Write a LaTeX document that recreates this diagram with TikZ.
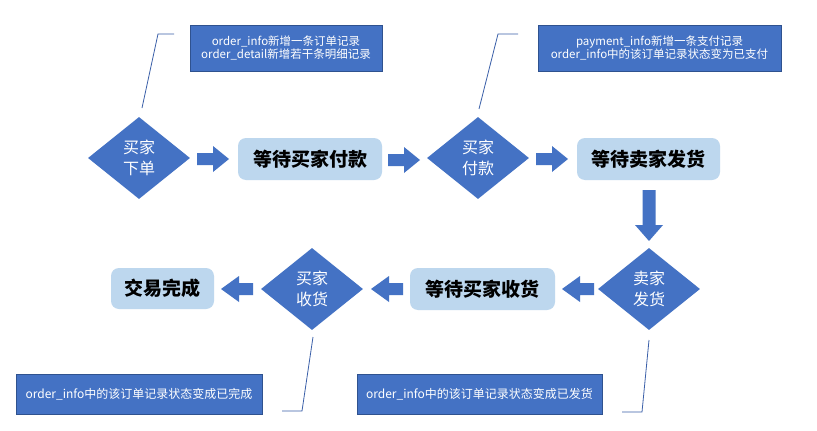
\documentclass[tikz,border=0pt]{standalone}
\usepackage{fontspec}
\setmainfont{Liberation Sans}
\newfontfamily\cjk{Noto Sans CJK SC}
\usetikzlibrary{shapes.geometric}
\definecolor{mblue}{HTML}{4472C4}
\definecolor{lblue}{HTML}{BDD7EE}
\definecolor{eblue}{HTML}{2F528F}
\definecolor{lineblue}{HTML}{3A5FA8}
\begin{document}
\begin{tikzpicture}[x=1pt,y=-1pt,
  dec/.style={diamond, fill=mblue, draw=none, minimum width=102pt, minimum height=82pt, inner sep=0pt, text=white, align=center, font=\cjk\fontsize{16}{21}\selectfont},
  state/.style={rectangle, rounded corners=8pt, fill=lblue, draw=none, inner sep=0pt, minimum height=42pt, text=black, font=\cjk\bfseries\fontsize{19}{22}\selectfont},
  rarr/.pic={\fill[mblue] (-16,-6) -- (0,-6) -- (0,-13) -- (16,0) -- (0,13) -- (0,6) -- (-16,6) -- cycle;},
  larr/.pic={\fill[mblue] (16,-6) -- (2,-6) -- (2,-13) -- (-16,0) -- (2,13) -- (2,6) -- (16,6) -- cycle;},
  darr/.pic={\fill[mblue] (-6.5,-25.5) -- (6.5,-25.5) -- (6.5,9.5) -- (14,9.5) -- (0,25.5) -- (-14,9.5) -- (-6.5,9.5) -- cycle;},
  note/.style={rectangle, fill=mblue, draw=eblue, line width=0.4pt, inner sep=0pt, text=white, align=center},
  lead/.style={draw=lineblue, line width=0.8pt}]
\useasboundingbox (0,0) rectangle (817,431);
\fill[white] (0,0) rectangle (817,431);

% row 1
\node[dec] (d1) at (139,158) {买家\\下单};
\pic (a1) at (213,159) {rarr};
\node[state, minimum width=144pt] (b1) at (310,159) {等待买家付款};
\pic (a2) at (404,160) {rarr};
\node[dec] (d2) at (478,158) {买家\\付款};
\pic (a3) at (552,159) {rarr};
\node[state, minimum width=143pt] (b2) at (648.5,159) {等待卖家发货};
\pic (a4) at (649,215.5) {darr};

% row 2
\node[dec] (d3) at (649,289) {卖家\\发货};
\pic (a5) at (578,289) {larr};
\node[state, minimum width=145pt] (b3) at (482.5,289) {等待买家收货};
\pic (a6) at (387,289) {larr};
\node[dec] (d4) at (312,289) {买家\\收货};
\pic (a7) at (237,289) {larr};
\node[state, minimum width=103pt, minimum height=41pt] (b4) at (162.5,288.5) {交易完成};

% callouts
\node[note, minimum width=192pt, minimum height=46pt, font=\cjk\fontsize{11.5}{13}\selectfont] (c1) at (286,48) {order\_info新增一条订单记录\\order\_detail新增若干条明细记录};
\node[note, minimum width=243pt, minimum height=46pt, font=\cjk\fontsize{11.5}{13}\selectfont] (c2) at (659.5,48) {payment\_info新增一条支付记录\\order\_info中的该订单记录状态变为已支付};
\node[note, minimum width=246pt, minimum height=40pt, font=\cjk\fontsize{12}{14}\selectfont] (c3) at (139,394) {order\_info中的该订单记录状态变成已完成};
\node[note, minimum width=245pt, minimum height=40pt, font=\cjk\fontsize{12}{14}\selectfont] (c4) at (479.5,394) {order\_info中的该订单记录状态变成已发货};

% leader lines
\coordinate (l1a) at (174,34); \coordinate (l1b) at (158,34); \coordinate (l1c) at (142,108);
\coordinate (l2a) at (518,34); \coordinate (l2b) at (498,34); \coordinate (l2c) at (479,109);
\coordinate (l3a) at (282,411); \coordinate (l3b) at (302,411); \coordinate (l3c) at (313,337);
\coordinate (l4a) at (622,412); \coordinate (l4b) at (642,412); \coordinate (l4c) at (649,340);
\draw[lead] (l1a) -- (l1b) -- (l1c);
\draw[lead] (l2a) -- (l2b) -- (l2c);
\draw[lead] (l3a) -- (l3b) -- (l3c);
\draw[lead] (l4a) -- (l4b) -- (l4c);
\end{tikzpicture}
\end{document}
